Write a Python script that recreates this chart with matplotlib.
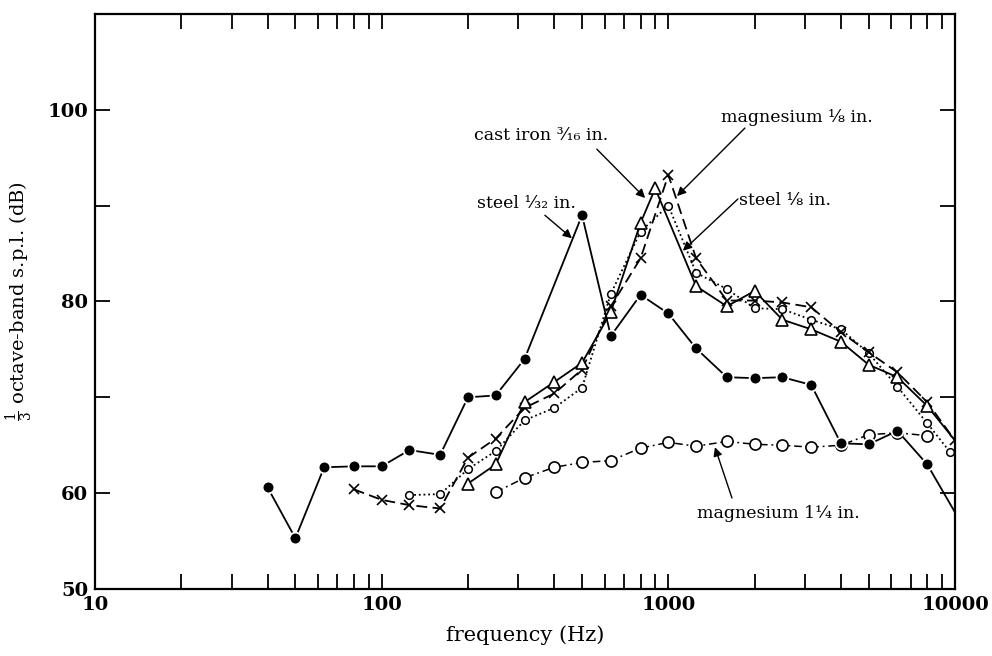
import matplotlib
matplotlib.use("Agg")
import matplotlib.pyplot as plt
from matplotlib.ticker import FixedLocator, NullFormatter

plt.rcParams['font.family'] = ['DejaVu Serif', 'DejaVu Sans']
plt.rcParams['mathtext.fontset'] = 'dejavuserif'

# steel 1/32 in. (filled circles, solid)
steel132_f = [40, 50, 63, 80, 100, 125, 160, 200, 250, 315, 500, 630, 800, 1000,
              1250, 1600, 2000, 2500, 3150, 4000, 5000, 6300, 8000, 10000]
steel132_db = [60.6, 55.3, 62.7, 62.8, 62.8, 64.5, 64.0, 70.0, 70.2, 74.0, 89.0, 76.4,
               80.7, 78.75, 75.1, 72.1, 72.0, 72.1, 71.3, 65.2, 65.1, 66.5, 63.0, 58.0]

# magnesium 1 1/4 in. (large open circles, dash-dot)
mag114_f = [250, 315, 400, 500, 630, 800, 1000, 1250, 1600, 2000, 2500, 3150,
            4000, 5000, 6300, 8000]
mag114_db = [60.1, 61.6, 62.7, 63.2, 63.4, 64.7, 65.3, 64.9, 65.4, 65.1, 65.0, 64.8,
             65.0, 66.1, 66.3, 66.0]

# cast iron 3/16 in. (open triangles, solid)
cast_f = [200, 250, 315, 400, 500, 630, 800, 900, 1250, 1600, 2000, 2500, 3150,
          4000, 5000, 6300, 8000, 10000]
cast_db = [61.0, 63.0, 69.5, 71.6, 73.6, 78.9, 88.2, 91.8, 81.6, 79.5, 81.1, 78.1,
           77.1, 75.8, 73.4, 72.1, 69.1, 65.5]

# magnesium 1/8 in. (crosses, dashed)
mag18_f = [80, 100, 125, 160, 200, 250, 315, 400, 500, 630, 800, 1000, 1250, 1600,
           2000, 2500, 3150, 4000, 5000, 6300, 8000, 10000]
mag18_db = [60.4, 59.3, 58.75, 58.4, 63.7, 65.7, 68.9, 70.4, 72.9, 79.5, 84.5, 93.2,
            84.5, 80.1, 80.1, 79.9, 79.4, 76.8, 74.7, 72.6, 69.5, 65.5]

# steel 1/8 in. (small open circles, dotted)
steel18_f = [125, 160, 200, 250, 315, 400, 500, 630, 800, 1000, 1250, 1600, 2000,
             2500, 3150, 4000, 5000, 6300, 8000, 9600]
steel18_db = [59.8, 59.9, 62.5, 64.4, 67.6, 68.9, 71.0, 80.8, 87.3, 90.0, 83.0, 81.3,
              79.3, 79.2, 78.1, 77.1, 74.6, 71.1, 67.3, 64.3]

x_major = [10, 100, 1000, 10000]
y_ticks = [50, 60, 70, 80, 90, 100]
y_labels = ['50', '60', '', '80', '', '100']

fig = plt.figure(figsize=(9.92, 6.56), dpi=100)
ax = fig.add_axes([95/992, 1-589/656, (955-95)/992, (589-14)/656])
ax.set_xscale('log')
ax.set_xlim(10, 10000)
ax.set_ylim(50, 110)

lw = 1.3
ax.plot(mag114_f, mag114_db, color='black', lw=1.1, ls=(0, (5, 2.5, 1.2, 2.5)),
        marker='o', ms=8, mfc='white', mec='black', mew=1.2, zorder=2)
ax.plot(steel18_f, steel18_db, color='black', lw=1.3, ls=(0, (1, 1.6)),
        marker='o', ms=5.5, mfc='white', mec='black', mew=1.1, zorder=3)
ax.plot(mag18_f, mag18_db, color='black', lw=1.3, ls=(0, (6, 3)),
        marker='x', ms=7, mec='black', mew=1.2, zorder=3)
ax.plot(cast_f, cast_db, color='black', lw=lw, ls='-',
        marker='^', ms=8, mfc='white', mec='black', mew=1.2, zorder=3,
        markevery=list(range(len(cast_f) - 1)))
ax.plot(steel132_f, steel132_db, color='black', lw=lw, ls='-',
        marker='o', ms=8.5, mfc='black', mec='white', mew=1.3, zorder=4,
        markevery=list(range(len(steel132_f) - 1)))

ax.xaxis.set_major_locator(FixedLocator(x_major))
ax.set_xticklabels([str(v) for v in x_major])
minors = [m * d for d in [10, 100, 1000] for m in range(2, 10)]
ax.xaxis.set_minor_locator(FixedLocator(minors))
ax.xaxis.set_minor_formatter(NullFormatter())
ax.set_yticks(y_ticks)
ax.set_yticklabels(y_labels)
ax.yaxis.set_minor_locator(FixedLocator([]))

ax.tick_params(which='both', direction='in', length=11, width=1.3,
               top=True, right=True, labelsize=14, pad=5)
for lab in ax.get_xticklabels() + ax.get_yticklabels():
    lab.set_fontweight('bold')
for s in ax.spines.values():
    s.set_linewidth(1.6)

ax.set_xlabel('frequency (Hz)', fontsize=15, labelpad=8)
ax.set_ylabel(r'$\frac{1}{3}$ octave-band s.p.l. (dB)', fontsize=14, labelpad=8)

arrow = dict(arrowstyle='-|>', color='black', lw=1.0, mutation_scale=13,
             shrinkA=0, shrinkB=0)
tfs = 12.5
ax.text(360, 97.3, 'cast iron ³⁄₁₆ in.', fontsize=tfs, ha='center', va='center')
ax.annotate('', xy=(830, 90.8), xytext=(563, 95.9), arrowprops=arrow)
ax.text(320, 90.2, 'steel ¹⁄₃₂ in.', fontsize=tfs, ha='center', va='center')
ax.annotate('', xy=(461, 86.6), xytext=(371, 89.0), arrowprops=arrow)
ax.text(2800, 99.2, 'magnesium ⅛ in.', fontsize=tfs, ha='center', va='center')
ax.annotate('', xy=(1072, 91.0), xytext=(1850, 98.1), arrowprops=arrow)
ax.text(1760, 90.5, 'steel ⅛ in.', fontsize=tfs, ha='left', va='center')
ax.annotate('', xy=(1124, 85.3), xytext=(1749, 90.7), arrowprops=arrow)
ax.text(2430, 57.9, 'magnesium 1¼ in.', fontsize=tfs, ha='center', va='center')
ax.annotate('', xy=(1454, 64.8), xytext=(1667, 59.5), arrowprops=arrow)

fig.savefig('out.png', dpi=100)
